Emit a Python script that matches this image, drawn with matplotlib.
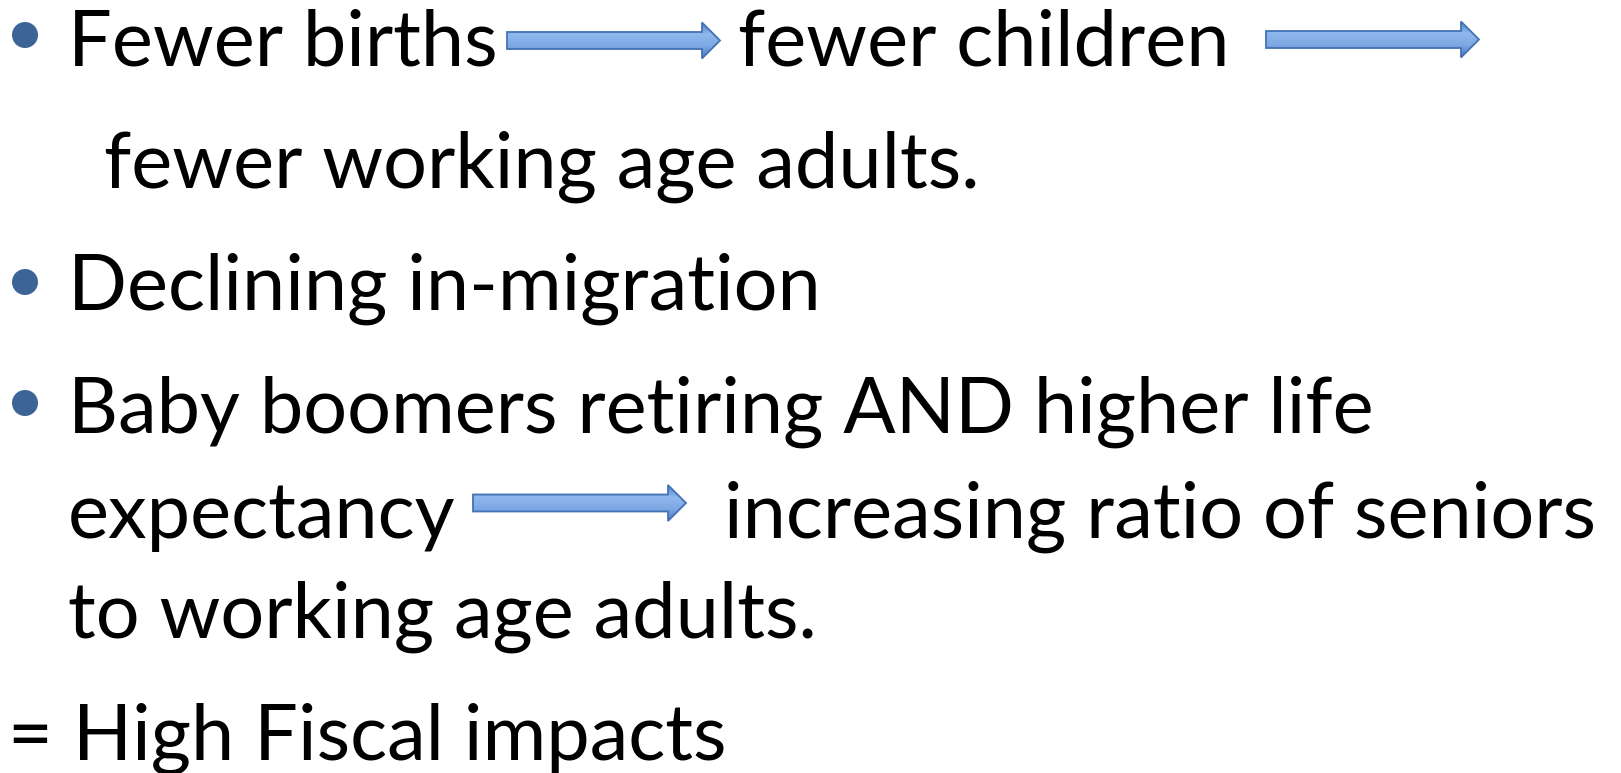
import matplotlib
matplotlib.use("Agg")
import matplotlib.pyplot as plt
import numpy as np
from matplotlib.patches import Polygon, Circle

W, H = 1621, 773
FONT = "Lato"

# text segments: (text, left x px, baseline y px, target right x px)
segments = [
    ("Fewer births", 68, 65, 493),
    ("fewer children", 738, 65, 1233),
    ("fewer working age adults.", 104, 188, 967),
    ("Declining in-migration", 68, 310, 824),
    ("Baby boomers retiring AND higher life", 68, 433, 1373),
    ("expectancy", 68, 538, 452),
    ("increasing ratio of seniors", 724, 538, 1608),
    ("to working age adults.", 68, 638, 827),
    ("= High Fiscal impacts", 8, 760, 727),
]
# bullets: (cx, cy)
bullets = [(25, 35), (25, 282), (25, 403)]
# arrows: (x0, x1, yc)
arrows = [(507, 720, 40.5), (1266, 1479, 39.5), (473, 686, 503)]

fig = plt.figure(figsize=(W / 100, H / 100), dpi=100)
ax = fig.add_axes([0, 0, 1, 1])
ax.set_xlim(0, W)
ax.set_ylim(H, 0)
ax.axis("off")

# measure to find a common font size
fig.canvas.draw()
renderer = fig.canvas.get_renderer()
base = 50
ratios = []
for txt, x0, yb, x1 in segments:
    t = ax.text(0, 0, txt, fontsize=base, family=FONT)
    bb = t.get_window_extent(renderer)
    ratios.append((x1 - x0) / bb.width)
    t.remove()
fs = base * float(np.median(ratios))

for txt, x0, yb, x1 in segments:
    ax.text(x0, yb, txt, fontsize=fs, family=FONT, color="black",
            va="baseline", ha="left")

for cx, cy in bullets:
    ax.add_patch(Circle((cx, cy), 13, color="#3c6496", lw=0))

shaft_h = 17
head_h = 36
head_l = 18
cmap = matplotlib.colors.LinearSegmentedColormap.from_list(
    "arr", ["#4f7fc4", "#8fb8ee", "#7ea8e4", "#4a7ac0"])
for x0, x1, yc in arrows:
    xh = x1 - head_l
    pts = [(x0, yc - shaft_h / 2), (xh, yc - shaft_h / 2), (xh, yc - head_h / 2),
           (x1, yc), (xh, yc + head_h / 2), (xh, yc + shaft_h / 2),
           (x0, yc + shaft_h / 2)]
    poly = Polygon(pts, closed=True, fc="none", ec="#4272b4", lw=1.3, zorder=3)
    ax.add_patch(poly)
    g = np.linspace(0, 1, 64).reshape(-1, 1)
    im = ax.imshow(g, cmap=cmap, extent=(x0, x1, yc + head_h / 2, yc - head_h / 2),
                   aspect="auto", zorder=2, origin="upper")
    im.set_clip_path(poly)

fig.savefig("out.png", dpi=100, facecolor="white")
